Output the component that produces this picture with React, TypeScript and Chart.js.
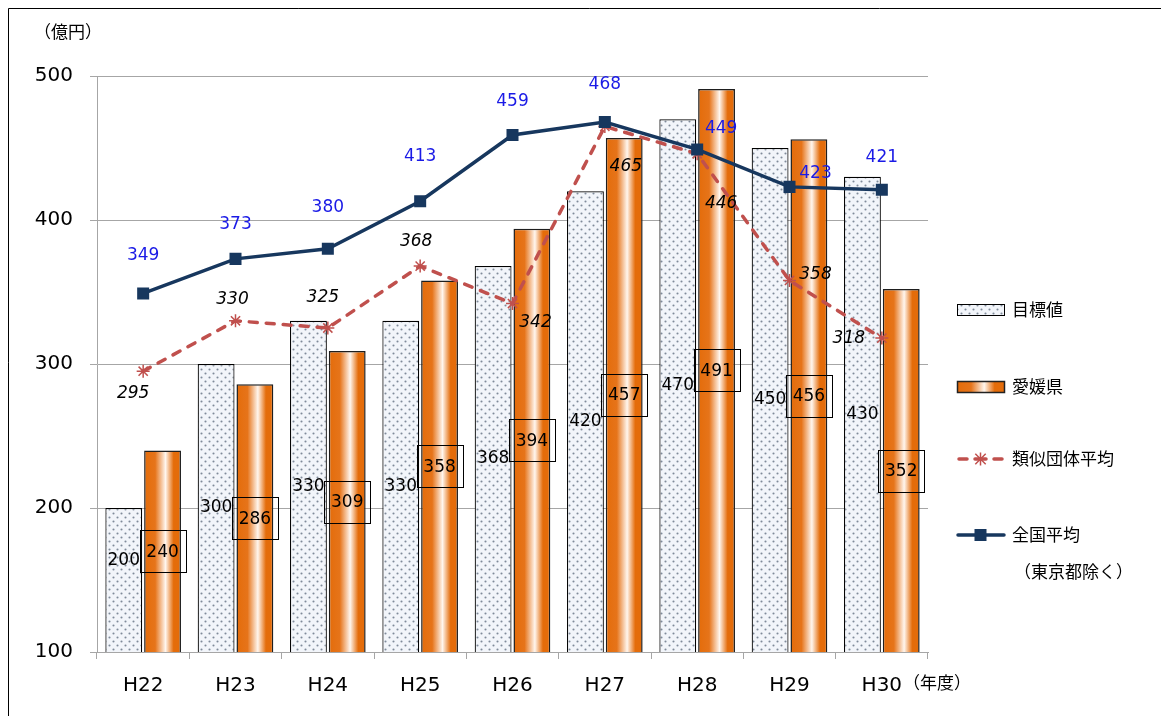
import React, { useEffect, useRef } from 'react';
import { Chart, registerables } from 'chart.js';

Chart.register(...registerables);

const categories = ['H22', 'H23', 'H24', 'H25', 'H26', 'H27', 'H28', 'H29', 'H30'];
const targetValues = [200, 300, 330, 330, 368, 420, 470, 450, 430];
const ehimeValues = [240, 286, 309, 358, 394, 457, 491, 456, 352];
const similarValues = [295, 330, 325, 368, 342, 465, 446, 358, 318];
const nationalValues = [349, 373, 380, 413, 459, 468, 449, 423, 421];
const yTickValues = [100, 200, 300, 400, 500];

const seriesNames = ['目標値', '愛媛県', '類似団体平均', '全国平均'];
const nationalNote = '（東京都除く）';
const yUnit = '（億円）';
const xUnit = '（年度）';

// label placement offsets (px) relative to the data point
const similarLabelOffsets = [[-10, 22], [-3, -21], [-5, -30], [-4, -25], [23, 19], [21, 40], [24, 50], [26, -6], [-33, 0]];
const nationalLabelOffsets = [[0, -38], [0, -34], [0, -41], [0, -45], [0, -33], [0, -38], [24, -21], [26, -13], [0, -32]];
const targetLabelOffsets = [-19, 0, 0, 0, 0, 0, 0, 0, 0];

const NUM_FONT = '"DejaVu Sans", "Noto Sans CJK JP", sans-serif';
const JP_FONT = '"Noto Sans CJK JP", "DejaVu Sans", sans-serif';
const ORANGE = '#E46C0A';
const NAVY = '#17375E';
const RED = '#C0504D';
const BLUE_TEXT = '#1A1AE6';
const GRID = '#A6A6A6';
const CP = 0.84;
const BP = 0.95;

function makeDotPattern(): CanvasPattern | string {
  const c = document.createElement('canvas');
  c.width = 8;
  c.height = 8;
  const g = c.getContext('2d');
  if (!g) return '#F2F5FA';
  g.fillStyle = '#F2F5FA';
  g.fillRect(0, 0, 8, 8);
  g.fillStyle = '#7F8A9A';
  [[1.5, 1.5], [5.5, 5.5]].forEach(([x, y]) => {
    g.beginPath();
    g.arc(x, y, 1.05, 0, Math.PI * 2);
    g.fill();
  });
  return g.createPattern(c, 'repeat') || '#F2F5FA';
}

function orangeGradient(ctx: CanvasRenderingContext2D, x0: number, x1: number) {
  const g = ctx.createLinearGradient(x0, 0, x1, 0);
  g.addColorStop(0, ORANGE);
  g.addColorStop(0.3, '#E6741A');
  g.addColorStop(0.58, '#FFF6EE');
  g.addColorStop(0.8, ORANGE);
  g.addColorStop(1, ORANGE);
  return g;
}

const overlayPlugin = {
  id: 'overlay',
  beforeDraw(chart: any) {
    const ctx: CanvasRenderingContext2D = chart.ctx;
    ctx.save();
    ctx.fillStyle = '#fff';
    ctx.fillRect(0, 0, chart.width, chart.height);
    ctx.strokeStyle = '#000';
    ctx.lineWidth = 1;
    ctx.beginPath();
    ctx.moveTo(0.5, chart.height + 10);
    ctx.lineTo(0.5, 0.5);
    ctx.lineTo(chart.width + 10, 0.5);
    ctx.stroke();
    ctx.restore();
  },
  afterDatasetsDraw(chart: any) {
    const ctx: CanvasRenderingContext2D = chart.ctx;
    const area = chart.chartArea;
    ctx.save();
    ctx.textAlign = 'center';
    ctx.textBaseline = 'middle';

    ctx.font = `17px ${NUM_FONT}`;
    ctx.fillStyle = '#000';
    chart.getDatasetMeta(0).data.forEach((el: any, i: number) => {
      const p = el.getProps(['x', 'y', 'base'], true);
      const mid = (p.y + Math.min(p.base, area.bottom)) / 2;
      ctx.fillText(String(targetValues[i]), p.x, mid + targetLabelOffsets[i]);
    });

    chart.getDatasetMeta(1).data.forEach((el: any, i: number) => {
      const p = el.getProps(['x', 'y', 'base'], true);
      const cy = (p.y + Math.min(p.base, area.bottom)) / 2;
      ctx.strokeStyle = '#000';
      ctx.lineWidth = 1;
      ctx.strokeRect(Math.round(p.x - 23) + 0.5, Math.round(cy - 21) + 0.5, 46, 42);
      ctx.fillStyle = '#000';
      ctx.fillText(String(ehimeValues[i]), p.x, cy + 1);
    });

    ctx.font = `italic 17px ${NUM_FONT}`;
    chart.getDatasetMeta(2).data.forEach((el: any, i: number) => {
      const p = el.getProps(['x', 'y'], true);
      const [dx, dy] = similarLabelOffsets[i];
      ctx.fillText(String(similarValues[i]), p.x + dx, p.y + dy);
    });

    ctx.font = `17px ${NUM_FONT}`;
    ctx.fillStyle = BLUE_TEXT;
    chart.getDatasetMeta(3).data.forEach((el: any, i: number) => {
      const p = el.getProps(['x', 'y'], true);
      const [dx, dy] = nationalLabelOffsets[i];
      ctx.fillText(String(nationalValues[i]), p.x + dx, p.y + dy);
    });
    ctx.restore();
  },
  afterDraw(chart: any) {
    const ctx: CanvasRenderingContext2D = chart.ctx;
    const area = chart.chartArea;
    ctx.save();
    ctx.textBaseline = 'middle';
    ctx.fillStyle = '#000';
    ctx.font = `17px ${JP_FONT}`;

    ctx.textAlign = 'center';
    ctx.fillText(yUnit, 60, 24);
    ctx.textAlign = 'left';
    ctx.fillText(xUnit, area.right - 25, area.bottom + 31);

    const sx = area.right + 29;
    const sw = 47;
    const tx = area.right + 84;
    const ys = [area.top + 234, area.top + 311, area.top + 383, area.top + 459];

    ctx.fillStyle = chart.data.datasets[0].backgroundColor;
    ctx.fillRect(sx, ys[0] - 6, sw, 12);
    ctx.strokeStyle = '#000';
    ctx.lineWidth = 1;
    ctx.strokeRect(sx + 0.5, ys[0] - 5.5, sw, 11);

    ctx.fillStyle = orangeGradient(ctx, sx, sx + sw);
    ctx.fillRect(sx, ys[1] - 6, sw, 12);
    ctx.strokeStyle = '#222';
    ctx.lineWidth = 1.5;
    ctx.strokeRect(sx + 0.5, ys[1] - 5.5, sw, 11);

    ctx.strokeStyle = RED;
    ctx.lineWidth = 3.5;
    ctx.lineCap = 'round';
    ctx.beginPath();
    ctx.moveTo(sx + 2, ys[2]);
    ctx.lineTo(sx + 10, ys[2]);
    ctx.moveTo(sx + 37, ys[2]);
    ctx.lineTo(sx + 45, ys[2]);
    ctx.moveTo(sx + 18, ys[2]);
    ctx.lineTo(sx + 29, ys[2]);
    ctx.stroke();
    ctx.lineWidth = 1.5;
    ctx.lineCap = 'butt';
    const mx = sx + sw / 2;
    const r = 6.5;
    ctx.beginPath();
    ctx.moveTo(mx, ys[2] - r);
    ctx.lineTo(mx, ys[2] + r);
    ctx.moveTo(mx - r * 0.8, ys[2] - r * 0.8);
    ctx.lineTo(mx + r * 0.8, ys[2] + r * 0.8);
    ctx.moveTo(mx - r * 0.8, ys[2] + r * 0.8);
    ctx.lineTo(mx + r * 0.8, ys[2] - r * 0.8);
    ctx.stroke();

    ctx.strokeStyle = NAVY;
    ctx.lineWidth = 3.5;
    ctx.lineCap = 'round';
    ctx.beginPath();
    ctx.moveTo(sx + 1, ys[3]);
    ctx.lineTo(sx + sw, ys[3]);
    ctx.stroke();
    ctx.fillStyle = NAVY;
    ctx.fillRect(mx - 6, ys[3] - 6, 12, 12);

    ctx.fillStyle = '#000';
    ctx.textAlign = 'left';
    seriesNames.forEach((n, i) => ctx.fillText(n, tx, ys[i]));
    ctx.fillText(nationalNote, tx + 2, ys[3] + 37);
    ctx.restore();
  },
};

export default function App() {
  const canvasRef = useRef<HTMLCanvasElement | null>(null);

  useEffect(() => {
    document.documentElement.style.overflow = 'hidden';
    document.body.style.overflow = 'hidden';
    if (!canvasRef.current) return;
    const dots = makeDotPattern();
    const chart = new Chart(canvasRef.current, {
      type: 'bar',
      data: {
        labels: categories,
        datasets: [
          {
            type: 'bar',
            label: seriesNames[0],
            data: targetValues,
            backgroundColor: dots as any,
            borderColor: '#000',
            borderWidth: 1.2,
            categoryPercentage: CP,
            barPercentage: BP,
            order: 2,
          },
          {
            type: 'bar',
            label: seriesNames[1],
            data: ehimeValues,
            backgroundColor: (c: any) => {
              const ch = c.chart;
              const xs = ch.scales && ch.scales.x;
              if (!xs || c.type !== 'data' || typeof c.dataIndex !== 'number') return ORANGE;
              const cat = xs.width / categories.length;
              const slot = (cat * CP) / 2;
              const bw = slot * BP;
              const cx = xs.getPixelForValue(c.dataIndex) + slot / 2;
              if (!isFinite(cx) || !isFinite(bw) || bw <= 0) return ORANGE;
              return orangeGradient(ch.ctx, cx - bw / 2, cx + bw / 2);
            },
            borderColor: '#1E1E1E',
            borderWidth: 1.5,
            categoryPercentage: CP,
            barPercentage: BP,
            order: 2,
          },
          {
            type: 'line',
            label: seriesNames[2],
            data: similarValues,
            borderColor: RED,
            backgroundColor: RED,
            borderWidth: 3.5,
            borderDash: [8, 9],
            borderCapStyle: 'round',
            pointStyle: 'star',
            pointRadius: 6.5,
            pointBorderWidth: 1.5,
            pointBorderColor: RED,
            tension: 0,
            order: 1,
          },
          {
            type: 'line',
            label: seriesNames[3],
            data: nationalValues,
            borderColor: NAVY,
            backgroundColor: NAVY,
            borderWidth: 3.5,
            pointStyle: 'rect',
            pointRadius: 8.5,
            pointBorderWidth: 0,
            pointBackgroundColor: NAVY,
            tension: 0,
            order: 0,
          },
        ] as any,
      },
      options: {
        animation: false,
        responsive: false,
        maintainAspectRatio: false,
        layout: { padding: { top: 68, right: 241, left: 0, bottom: 0 } },
        plugins: {
          legend: { display: false },
          tooltip: { enabled: false },
          title: { display: false },
        },
        scales: {
          x: {
            grid: { display: true, drawOnChartArea: false, color: GRID, tickLength: 7, offset: true },
            border: { color: GRID, width: 1 },
            ticks: { color: '#000', font: { family: NUM_FONT, size: 20 }, padding: 15, maxRotation: 0 },
            afterFit: (s: any) => {
              s.height = 64;
            },
          },
          y: {
            min: 100,
            max: 500,
            grid: { color: GRID, tickLength: 7 },
            border: { color: GRID, width: 1 },
            ticks: { color: '#000', font: { family: NUM_FONT, size: 20 }, padding: 17, stepSize: 100 },
            afterBuildTicks: (s: any) => {
              s.ticks = yTickValues.map((v) => ({ value: v }));
            },
            afterFit: (s: any) => {
              s.width = 89;
            },
          },
        },
      } as any,
      plugins: [overlayPlugin],
    });
    return () => chart.destroy();
  }, []);

  return (
    <div style={{ width: 1161, height: 708 }}>
      <canvas ref={canvasRef} width={1161} height={708} style={{ display: 'block' }} />
    </div>
  );
}
